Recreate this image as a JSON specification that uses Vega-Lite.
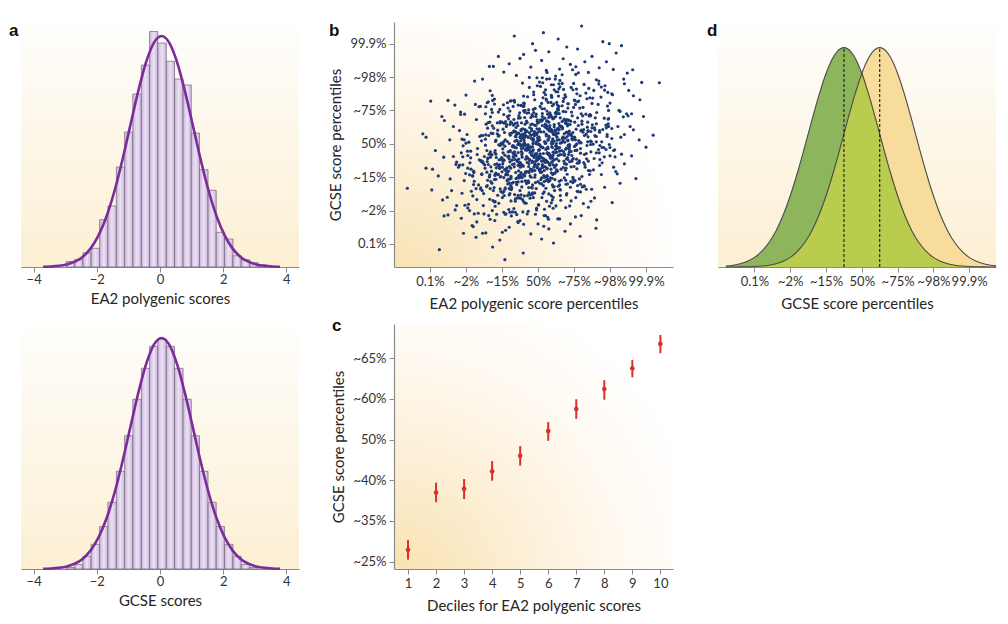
{
  "$schema": "https://vega.github.io/schema/vega-lite/v6.json",
  "background": "#ffffff",
  "padding": {"left": 9, "top": 22, "right": 5, "bottom": 5},
  "config": {
    "font": "Lato",
    "view": {"stroke": null},
    "axis": {"domainColor": "#8a8a8a", "tickColor": "#8a8a8a", "labelColor": "#333333", "titleColor": "#262626", "labelFontSize": 13, "titleFontSize": 15, "titleFontWeight": "normal", "grid": false, "tickSize": 5, "labelPadding": 2, "domainWidth": 1.2},
    "title": {"fontSize": 17, "fontWeight": "bold", "anchor": "start", "color": "#111111", "font": "Liberation Sans"}
  },
  "datasets": {
    "histA": [
      {"x0": -2.97, "x1": -2.70, "h": 5.5}, {"x0": -2.70, "x1": -2.44, "h": 7.3}, {"x0": -2.44, "x1": -2.18, "h": 14.2}, {"x0": -2.18, "x1": -1.91, "h": 18.7},
      {"x0": -1.91, "x1": -1.65, "h": 47.3}, {"x0": -1.65, "x1": -1.38, "h": 61}, {"x0": -1.38, "x1": -1.12, "h": 100}, {"x0": -1.12, "x1": -0.86, "h": 135},
      {"x0": -0.86, "x1": -0.59, "h": 173}, {"x0": -0.59, "x1": -0.33, "h": 202}, {"x0": -0.33, "x1": -0.07, "h": 235.5}, {"x0": -0.07, "x1": 0.20, "h": 224},
      {"x0": 0.20, "x1": 0.46, "h": 205.7}, {"x0": 0.46, "x1": 0.73, "h": 188}, {"x0": 0.73, "x1": 0.99, "h": 182}, {"x0": 0.99, "x1": 1.25, "h": 134},
      {"x0": 1.25, "x1": 1.52, "h": 97.3}, {"x0": 1.52, "x1": 1.78, "h": 76.7}, {"x0": 1.78, "x1": 2.04, "h": 34.7}, {"x0": 2.04, "x1": 2.31, "h": 28},
      {"x0": 2.31, "x1": 2.57, "h": 11.3}, {"x0": 2.57, "x1": 2.84, "h": 7.3}, {"x0": 2.84, "x1": 3.10, "h": 4.3}, {"x0": 3.10, "x1": 3.36, "h": 2.3}
    ],
    "histB": [
      {"x0": -2.97, "x1": -2.70, "h": 1.5}, {"x0": -2.70, "x1": -2.44, "h": 4.5}, {"x0": -2.44, "x1": -2.18, "h": 12.7}, {"x0": -2.18, "x1": -1.91, "h": 24.7},
      {"x0": -1.91, "x1": -1.65, "h": 42.5}, {"x0": -1.65, "x1": -1.38, "h": 66.7}, {"x0": -1.38, "x1": -1.12, "h": 97.7}, {"x0": -1.12, "x1": -0.86, "h": 133.3},
      {"x0": -0.86, "x1": -0.59, "h": 169.7}, {"x0": -0.59, "x1": -0.33, "h": 200.7}, {"x0": -0.33, "x1": -0.07, "h": 222.7}, {"x0": -0.07, "x1": 0.20, "h": 230},
      {"x0": 0.20, "x1": 0.46, "h": 222.7}, {"x0": 0.46, "x1": 0.73, "h": 200.7}, {"x0": 0.73, "x1": 0.99, "h": 169.7}, {"x0": 0.99, "x1": 1.25, "h": 133.3},
      {"x0": 1.25, "x1": 1.52, "h": 97.7}, {"x0": 1.52, "x1": 1.78, "h": 66.7}, {"x0": 1.78, "x1": 2.04, "h": 42.5}, {"x0": 2.04, "x1": 2.31, "h": 24.7},
      {"x0": 2.31, "x1": 2.57, "h": 12.7}, {"x0": 2.57, "x1": 2.84, "h": 4.5}, {"x0": 2.84, "x1": 3.10, "h": 1.5}
    ],
    "curve": [
      {"x": -3.70, "v": 0.2}, {"x": -3.45, "v": 0.5}, {"x": -3.20, "v": 1.2}, {"x": -2.95, "v": 2.6}, {"x": -2.70, "v": 5.3}, {"x": -2.45, "v": 10.1},
      {"x": -2.20, "v": 18.4}, {"x": -1.95, "v": 31.3}, {"x": -1.70, "v": 50.0}, {"x": -1.45, "v": 75.0}, {"x": -1.20, "v": 105.8}, {"x": -0.95, "v": 140.1},
      {"x": -0.70, "v": 174.4}, {"x": -0.45, "v": 203.9}, {"x": -0.20, "v": 223.9}, {"x": 0.05, "v": 231}, {"x": 0.30, "v": 223.9}, {"x": 0.55, "v": 203.9},
      {"x": 0.80, "v": 174.4}, {"x": 1.05, "v": 140.1}, {"x": 1.30, "v": 105.8}, {"x": 1.55, "v": 75.0}, {"x": 1.80, "v": 50.0}, {"x": 2.05, "v": 31.3},
      {"x": 2.30, "v": 18.4}, {"x": 2.55, "v": 10.1}, {"x": 2.80, "v": 5.3}, {"x": 3.05, "v": 2.6}, {"x": 3.30, "v": 1.2}, {"x": 3.55, "v": 0.5}, {"x": 3.80, "v": 0.2}
    ],
    "dens": [
      {"z": -3.8, "g": 0.0043, "yl": 0.0001, "ov": 0.0001}, {"z": -3.6, "g": 0.0082, "yl": 0.0002, "ov": 0.0002}, {"z": -3.4, "g": 0.0149, "yl": 0.0005, "ov": 0.0005},
      {"z": -3.2, "g": 0.0261, "yl": 0.0011, "ov": 0.0011}, {"z": -3.0, "g": 0.0439, "yl": 0.0022, "ov": 0.0022}, {"z": -2.8, "g": 0.0710, "yl": 0.0043, "ov": 0.0043},
      {"z": -2.6, "g": 0.1103, "yl": 0.0082, "ov": 0.0082}, {"z": -2.4, "g": 0.1645, "yl": 0.0149, "ov": 0.0149}, {"z": -2.2, "g": 0.2357, "yl": 0.0261, "ov": 0.0261},
      {"z": -2.0, "g": 0.3247, "yl": 0.0439, "ov": 0.0439}, {"z": -1.8, "g": 0.4296, "yl": 0.0710, "ov": 0.0710}, {"z": -1.6, "g": 0.5461, "yl": 0.1103, "ov": 0.1103},
      {"z": -1.4, "g": 0.6670, "yl": 0.1645, "ov": 0.1645}, {"z": -1.2, "g": 0.7827, "yl": 0.2357, "ov": 0.2357}, {"z": -1.0, "g": 0.8825, "yl": 0.3247, "ov": 0.3247},
      {"z": -0.8, "g": 0.956, "yl": 0.4296, "ov": 0.4296}, {"z": -0.6, "g": 0.995, "yl": 0.5461, "ov": 0.5461}, {"z": -0.5, "g": 1, "yl": 0.6065, "ov": 0.6065},
      {"z": -0.4, "g": 0.995, "yl": 0.6670, "ov": 0.6670}, {"z": -0.2, "g": 0.956, "yl": 0.7827, "ov": 0.7827}, {"z": 0.0, "g": 0.8825, "yl": 0.8825, "ov": 0.8825},
      {"z": 0.2, "g": 0.7827, "yl": 0.956, "ov": 0.7827}, {"z": 0.4, "g": 0.6670, "yl": 0.995, "ov": 0.6670}, {"z": 0.5, "g": 0.6065, "yl": 1, "ov": 0.6065},
      {"z": 0.6, "g": 0.5461, "yl": 0.995, "ov": 0.5461}, {"z": 0.8, "g": 0.4296, "yl": 0.956, "ov": 0.4296}, {"z": 1.0, "g": 0.3247, "yl": 0.8825, "ov": 0.3247},
      {"z": 1.2, "g": 0.2357, "yl": 0.7827, "ov": 0.2357}, {"z": 1.4, "g": 0.1645, "yl": 0.6670, "ov": 0.1645}, {"z": 1.6, "g": 0.1103, "yl": 0.5461, "ov": 0.1103},
      {"z": 1.8, "g": 0.0710, "yl": 0.4296, "ov": 0.0710}, {"z": 2.0, "g": 0.0439, "yl": 0.3247, "ov": 0.0439}, {"z": 2.2, "g": 0.0261, "yl": 0.2357, "ov": 0.0261},
      {"z": 2.4, "g": 0.0149, "yl": 0.1645, "ov": 0.0149}, {"z": 2.6, "g": 0.0082, "yl": 0.1103, "ov": 0.0082}, {"z": 2.8, "g": 0.0043, "yl": 0.0710, "ov": 0.0043},
      {"z": 3.0, "g": 0.0022, "yl": 0.0439, "ov": 0.0022}, {"z": 3.2, "g": 0.0011, "yl": 0.0261, "ov": 0.0011}, {"z": 3.4, "g": 0.0005, "yl": 0.0149, "ov": 0.0005},
      {"z": 3.6, "g": 0.0002, "yl": 0.0082, "ov": 0.0002}, {"z": 3.75, "g": 0.0001, "yl": 0.0051, "ov": 0.0001}
    ],
    "dec": [
      {"decile": 1, "m": 0.29, "lo": 0.05, "hi": 0.53}, {"decile": 2, "m": 1.70, "lo": 1.46, "hi": 1.94}, {"decile": 3, "m": 1.79, "lo": 1.54, "hi": 2.03},
      {"decile": 4, "m": 2.22, "lo": 1.99, "hi": 2.47}, {"decile": 5, "m": 2.60, "lo": 2.36, "hi": 2.84}, {"decile": 6, "m": 3.21, "lo": 2.97, "hi": 3.43},
      {"decile": 7, "m": 3.75, "lo": 3.51, "hi": 3.99}, {"decile": 8, "m": 4.24, "lo": 3.98, "hi": 4.46}, {"decile": 9, "m": 4.75, "lo": 4.53, "hi": 4.96},
      {"decile": 10, "m": 5.35, "lo": 5.12, "hi": 5.57}
    ]
  },
  "spacing": 6,
  "vconcat": [
    {
      "spacing": 95,
      "bounds": "flush",
      "hconcat": [
        {
          "width": 278, "height": 245,
          "title": {"text": "a", "dx": -12, "dy": 22},
          "view": {"fill": {"gradient": "linear", "x1": 0, "y1": 0, "x2": 0, "y2": 1, "stops": [{"offset": 0, "color": "#fffefc"}, {"offset": 1, "color": "#fcefd3"}]}},
          "layer": [
            {
              "data": {"name": "histA"},
              "mark": {"type": "bar", "stroke": "#6f6578", "strokeWidth": 0.7, "fill": {"gradient": "linear", "x1": 0, "y1": 0, "x2": 1, "y2": 0, "stops": [{"offset": 0, "color": "#cbb6dc"}, {"offset": 0.5, "color": "#ece2f3"}, {"offset": 1, "color": "#cbb6dc"}]}},
              "encoding": {
                "x": {"field": "x0", "type": "quantitative", "scale": {"domain": [-4.4, 4.4], "nice": false, "zero": false}, "axis": {"values": [-4, -2, 0, 2, 4], "title": "EA2 polygenic scores", "labelPadding": 1, "titlePadding": 5}},
                "x2": {"field": "x1"},
                "y": {"field": "h", "type": "quantitative", "scale": {"domain": [0, 245], "nice": false}, "axis": null},
                "y2": {"datum": 0}
              }
            },
            {
              "data": {"name": "curve"},
              "mark": {"type": "line", "color": "#7a2c9a", "strokeWidth": 2.6, "interpolate": "monotone"},
              "encoding": {"x": {"field": "x", "type": "quantitative"}, "y": {"field": "v", "type": "quantitative"}}
            }
          ]
        },
        {
          "spacing": 45,
          "bounds": "flush",
          "hconcat": [
            {
              "width": 279, "height": 245,
              "title": {"text": "b", "dx": 0, "dy": 22},
              "view": {"fill": {"gradient": "radial", "x1": 0, "y1": 1, "r1": 0, "x2": 0, "y2": 1, "r2": 1.05, "stops": [{"offset": 0, "color": "#f8e1ae"}, {"offset": 0.4, "color": "#fcefd6"}, {"offset": 0.75, "color": "#fffaf3"}, {"offset": 1, "color": "#ffffff"}]}},
              "data": {"values": "x,y\n-183,-245\n-151,-149\n-110,-91\n-97,-47\n-70,-5\n-63,37\n-41,112\n-29,-155\n-22,-96\n-4,-45\n9,-9\n16,36\n35,87\n43,177\n59,-112\n79,-45\n88,-2\n121,41\n133,89\n207,147\n-172,-134\n-136,-31\n-121,119\n-88,-90\n-80,1\n-55,-236\n-50,-62\n-36,27\n-15,-147\n-11,-37\n2,64\n22,-110\n28,-14\n49,82\n54,-82\n70,18\n101,131\n107,-46\n158,42\n176,170\n-226,-55\n-159,-136\n-106,63\n-101,-41\n-73,-132\n-58,63\n-44,-40\n-26,-131\n-18,45\n-8,-30\n11,-161\n24,54\n31,-30\n40,-168\n65,51\n74,-31\n96,222\n112,55\n147,-24\n238,194\n-195,-192\n-129,103\n-125,31\n-85,7\n-67,-31\n-66,-69\n-39,-93\n-33,-178\n-13,103\n-1,62\n5,12\n13,-11\n38,-55\n51,-81\n62,-155\n83,107\n85,71\n127,43\n162,6\n189,-17\n-244,-105\n-145,27\n-117,-106\n-91,12\n-78,-135\n-53,-2\n-47,-153\n-31,-14\n-24,169\n-6,-36\n12,91\n19,-53\n26,68\n46,-71\n57,44\n81,-91\n92,29\n105,-161\n139,21\n169,179\n-168,-14\n-140,-109\n-112,41\n-99,-70\n-83,107\n-61,-36\n-42,-204\n-37,-5\n-16,-132\n-10,27\n7,-86\n20,59\n36,-43\n44,119\n60,-11\n67,181\n99,18\n118,-121\n151,57\n214,-39\n-179,-82\n-132,-24\n-108,25\n-95,88\n-75,-171\n-57,-101\n-49,-58\n-27,-16\n-20,26\n-2,72\n4,185\n17,-113\n33,-64\n48,-17\n53,20\n77,62\n103,129\n109,-142\n130,-62\n198,-2\n-205,12\n-155,-140\n-104,-47\n-87,58\n-69,-115\n-64,-11\n-40,99\n-34,-87\n-14,15\n-12,147\n1,-61\n23,29\n29,-226\n41,-35\n63,53\n82,-120\n87,-8\n124,84\n143,-92\n180,43\n-252,-160\n-162,22\n-114,-60\n-103,-143\n-72,33\n-52,-56\n-43,-167\n-30,37\n-23,-47\n-7,-211\n8,36\n14,-51\n37,177\n50,25\n58,-51\n75,147\n90,26\n115,-51\n136,135\n222,52\n-187,-42\n-148,-63\n-119,-95\n-92,-136\n-81,-197\n-54,77\n-48,27\n-28,-10\n-17,-33\n-9,-80\n10,-120\n21,162\n27,89\n47,41\n66,4\n71,-24\n94,-52\n110,-125\n155,160\n193,113\n-171,73\n-134,-93\n-123,47\n-90,-93\n-77,26\n-59,-122\n-51,-1\n-38,-156\n-21,-9\n-3,198\n6,-30\n18,105\n34,-42\n42,77\n64,-76\n68,45\n97,-100\n106,44\n149,-136\n171,35\n-211,-148\n-157,9\n-105,-99\n-94,62\n-71,-62\n-65,125\n-46,-23\n-25,-147\n-19,16\n0,-113\n3,38\n25,-73\n30,79\n52,-25\n55,156\n84,-4\n104,-219\n119,39\n131,-70\n246,90\n-200,2\n-138,64\n-127,-200\n-86,-110\n-79,-68\n-62,-33\n-39,11\n-32,68\n-12,155\n-5,-134\n13,-71\n15,-29\n39,8\n45,58\n52,124\n80,-149\n100,-68\n104,-20\n160,22\n184,77\n-166,-208\n-147,-73\n-113,30\n-98,-146\n-68,-40\n-56,55\n-45,-113\n-35,-18\n-20,79\n-8,-93\n0,8\n23,131\n32,-60\n43,29\n61,190\n73,-35\n89,58\n126,-179\n153,-1\n228,97\n-190,-93\n-152,-185\n-118,7\n-89,-76\n-74,-216\n-60,10\n-49,-70\n-29,141\n-14,10\n-11,-70\n10,121\n18,7\n36,-76\n40,114\n59,12\n76,-79\n93,95\n113,10\n145,-81\n167,118\n-174,118\n-130,32\n-109,-3\n-84,-39\n-76,-73\n-53,-102\n-40,-173\n-26,102\n-23,49\n-1,18\n4,-17\n20,-56\n26,-97\n50,-186\n67,114\n78,69\n86,31\n116,3\n134,-29\n210,-70\n-218,-64\n-141,123\n-116,-72\n-100,65\n-82,-82\n-58,32\n-44,-101\n-33,23\n-15,-123\n-4,6\n2,-183\n22,-17\n38,143\n47,-27\n56,90\n72,-52\n102,65\n108,-75\n138,65\n176,-92\n-177,-112\n-144,59\n-107,-63\n-96,117\n-70,-27\n-63,-172\n-43,-2\n-36,-111\n-18,39\n-2,-68\n12,82\n16,-45\n28,124\n49,-6\n63,-169\n81,22\n98,-106\n122,59\n140,-52\n200,122\n-165,-123\n-131,-69\n-120,-26\n-93,34\n-69,112\n-52,-162\n-50,-95\n-30,-56\n-13,-18\n-10,24\n9,68\n24,194\n29,-113\n51,-63\n66,-20\n69,20\n91,68\n110,126\n157,-162\n172,-47\n-235,-38\n-160,112\n-111,-92\n-102,2\n-71,-204\n-66,-60\n-41,29\n-37,-177\n-16,-35\n-6,55\n5,-118\n14,-12\n33,93\n44,-89\n53,11\n84,120\n88,-54\n125,35\n141,166\n183,-11\n-197,28\n-154,-53\n-122,-131\n-88,52\n-80,-45\n-55,-154\n-47,39\n-28,-43\n-22,-163\n-3,45\n11,-41\n21,-215\n35,44\n46,-47\n58,180\n78,34\n95,-48\n117,144\n137,50\n232,-31\n-186,-76\n-135,-98\n-124,-140\n-91,-211\n-73,63\n-60,27\n-42,-12\n-34,-46\n-17,-77\n-7,-116\n7,172\n19,77\n31,39\n41,1\n65,-32\n74,-60\n101,-112\n107,164\n163,94\n195,74\n-203,-184\n-149,-38\n-115,-211\n-97,-52\n-78,98\n-54,-65\n-46,63\n-31,-83\n-24,33\n-9,-100\n3,20\n17,-144\n37,1\n48,194\n57,-13\n70,127\n85,-32\n120,90\n135,-45\n250,84\n-169,-32\n-143,-128\n-110,23\n-86,-87\n-82,75\n-57,-53\n-40,143\n-27,-15\n-21,-153\n-12,12\n8,-107\n24,54\n27,-55\n51,96\n60,-22\n71,163\n96,12\n111,-143\n150,48\n178,-57\n-213,-27\n-137,25\n-126,130\n-99,-161\n-75,-97\n-64,-47\n-48,-6\n-35,35\n-14,83\n-4,-193\n10,-102\n22,-49\n38,-8\n42,34\n62,78\n77,141\n90,-130\n114,-57\n146,-2\n190,48\n-181,-96\n-146,14\n-112,-154\n-94,-49\n-68,56\n-61,-115\n-44,-28\n-26,93\n-19,-100\n-5,0\n6,112\n20,-69\n30,23\n45,162\n56,-35\n82,54\n92,-171\n118,-14\n142,84\n216,-83\n-170,-234\n-142,-20\n-103,-98\n-85,123\n-67,-7\n-62,-86\n-39,113\n-29,-4\n-25,-86\n-6,82\n1,-2\n25,-95\n36,84\n40,-11\n64,-109\n80,73\n103,-6\n123,-129\n159,78\n205,16\n-192,5\n-128,-33\n-120,-62\n-90,-80\n-72,-118\n-56,-233\n-51,93\n-32,39\n-13,3\n-11,-41\n12,-65\n15,-125\n32,195\n52,90\n54,46\n75,17\n87,-11\n109,-58\n129,-127\n186,174\n-208,-6\n-133,-134\n-105,-2\n-95,-143\n-77,-20\n-59,-212\n-45,-33\n-38,121\n-15,-54\n-2,68\n4,-76\n23,48\n34,-102\n49,31\n61,-137\n83,9\n99,181\n115,7\n152,137\n172,-5\n-215,88\n-158,-50\n-119,-173\n-92,-7\n-74,-130\n-63,22\n-41,-92\n-36,59\n-24,-50\n-8,106\n2,-20\n18,-196\n28,11\n47,-107\n66,52\n79,-61\n95,84\n108,-19\n144,138\n240,28\n-363,-133\n-320,30\n-311,20\n-298,128\n-274,-317\n-92,-347\n-66,323\n15,333\n121,353\n337,183\n320,26\n272,-104\n300,-10\n293,82\n-41,-327\n-126,-309\n-172,-280\n43,-297\n117,-277\n161,-253\n180,306\n198,300\n217,272\n232,294\n56,314\n-7,280\n-50,256\n-135,232\n-124,232\n-154,194\n-176,188\n-200,146\n-250,130\n-231,116\n-267,82\n-235,52\n-311,-73\n-293,-76\n-295,-138\n-277,-96\n-265,-168\n-261,-216\n-250,-213\n-213,-223\n-207,-268\n-180,-248\n-154,-268\n-106,-288\n163,-228\n206,-176\n228,-118\n260,-36\n265,42\n281,12\n265,144\n263,222\n283,132\n288,184\n248,212\n256,52\n-110,262\n-80,240\n-40,268\n-20,230\n10,250\n30,276\n70,255\n90,238\n110,284\n130,246\n150,262\n-95,215\n-60,205\n25,214\n60,224\n105,208\n140,214\n170,228\n190,246\n-15,300\n80,290\n-285,-20\n-262,-40\n-245,12\n-228,-62\n-218,40\n-205,-110\n-240,-140\n-226,-185\n-190,-200\n-260,70\n-215,95\n-195,-35\n195,60\n210,-20\n225,100\n240,-60\n252,160\n205,150\n220,-90\n185,-130\n240,180\n230,20\n260,90\n-120,-230\n-80,-250\n-50,-230\n-20,-270\n0,-240\n30,-255\n60,-225\n90,-240\n120,-215\n-150,-210\n-95,-205\n75,-262\n140,-190\n-30,-210\n10,-285\n-230,-198\n-134,-166\n-76,-125\n-32,-112\n10,-85\n52,-78\n127,-56\n-140,-44\n-81,-37\n-30,-19\n6,-6\n51,1\n102,20\n192,28\n-97,44\n-30,64\n13,73\n56,106\n104,118\n162,192\n-119,-187\n-16,-151\n134,-136\n-75,-103\n16,-95\n-221,-70\n-47,-65\n42,-51\n-132,-30\n-22,-26\n79,-13\n-95,7\n1,13\n97,34\n-67,39\n33,55\n146,86\n-31,92\n57,143\n185,161\n-40,-241\n-121,-174\n78,-121\n-26,-116\n-117,-88\n78,-73\n-25,-59\n-116,-41\n60,-33\n-15,-23\n-146,-4\n69,9\n-15,16\n-153,25\n66,50\n-16,59\n237,81\n70,97\n-9,132\n209,223\n-177,-210\n118,-144\n46,-140\n22,-100\n-16,-82\n-54,-81\n-78,-54\n-163,-48\n118,-28\n77,-16\n27,-10\n4,-2\n-40,23\n-66,36\n-140,47\n122,68\n86,70\n58,112\n21,147\n-2,174\n-90,-259\n42,-160\n-91,-132\n27,-106\n-120,-93\n13,-68\n-138,-62\n1,-46\n184,-39\n-21,-21\n106,-3\n-38,4\n83,11\n-56,31\n59,42\n-76,66\n44,77\n-146,90\n36,124\n194,154\n1,-183\n-94,-155\n56,-127\n-55,-114\n122,-98\n-21,-76\n-189,-57\n10,-52\n-117,-31\n42,-25\n-71,-8\n74,5\n-28,21\n134,29\n4,45\n196,52\n33,84\n-106,103\n72,136\n-24,199\n-67,-194\n-9,-147\n40,-123\n103,-110\n-156,-90\n-86,-72\n-43,-64\n-1,-42\n41,-35\n87,-17\n200,-11\n-98,2\n-49,18\n-2,33\n35,38\n77,62\n144,88\n-127,94\n-47,115\n13,183\n27,-220\n-125,-170\n-32,-119\n73,-102\n-100,-84\n4,-79\n114,-55\n-72,-49\n30,-29\n162,-27\n-46,-14\n44,8\n-211,14\n-20,26\n68,48\n-105,67\n7,72\n99,109\n-77,128\n58,165\n-145,-267\n37,-177\n-45,-129\n-128,-118\n48,-87\n-41,-67\n-152,-58\n52,-45\n-32,-38\n-196,-22\n51,-7\n-36,-1\n192,22\n40,35\n-36,43\n162,60\n41,75\n-36,100\n150,121\n67,207\n-27,-202\n-48,-163\n-80,-134\n-121,-107\n-182,-96\n92,-69\n42,-63\n5,-43\n-18,-32\n-65,-24\n-105,-5\n177,6\n104,12\n56,32\n19,51\n-9,56\n-37,79\n-110,95\n175,140\n128,178\n88,-186\n-78,-149\n62,-138\n-78,-105\n41,-92\n-107,-74\n14,-66\n-141,-53\n6,-36\n213,-18\n-15,-9\n120,3\n-27,19\n92,27\n-61,49\n60,53\n-85,82\n59,91\n-121,134\n50,156\n-133,-226\n24,-172\n-84,-120\n77,-109\n-47,-86\n140,-80\n-8,-61\n-132,-40\n31,-34\n-98,-15\n53,-12\n-58,10\n94,15\n-10,37\n171,40\n11,69\n-204,89\n54,104\n-55,116\n105,231\n17,-215\n79,-153\n-185,-142\n-95,-101\n-53,-94\n-18,-77\n26,-54\n83,-47\n170,-27\n-119,-20\n-56,-2\n-14,0\n23,24\n73,30\n139,37\n-134,65\n-53,85\n-5,89\n37,145\n92,169\n-193,-181\n-58,-162\n45,-128\n-131,-113\n-25,-83\n70,-71\n-98,-60\n-3,-50\n94,-35\n-78,-23\n23,-15\n146,8\n-45,17\n44,28\n205,46\n-20,58\n73,74\n-164,111\n14,138\n112,213\n-78,-205\n-170,-167\n22,-133\n-61,-104\n-201,-89\n25,-75\n-55,-64\n156,-44\n25,-29\n-55,-26\n136,-5\n22,3\n-61,21\n129,25\n27,44\n-64,61\n110,78\n25,98\n-66,130\n133,152\n-133,159\n-47,115\n-12,94\n24,69\n58,61\n87,38\n158,25\n-117,11\n-64,8\n-33,-14\n2,-19\n41,-35\n82,-41\n171,-65\n-129,-82\n-84,-93\n-46,-101\n-18,-131\n14,-149\n55,-225\n49,203\n-138,126\n57,101\n-80,85\n67,67\n-47,43\n86,29\n-38,18\n108,0\n-21,-11\n168,-17\n2,-37\n-158,-53\n12,-62\n-105,-71\n37,-87\n-80,-117\n60,-123\n-80,-153\n77,-191\n97,162\n-74,129\n48,92\n-132,81\n12,55\n157,48\n-13,28\n96,21\n-54,3\n53,-13\n-97,-27\n30,-31\n-139,-43\n-9,-64\n154,-78\n-37,-96\n91,-113\n-74,-137\n37,-155\n-137,-215\n108,150\n54,116\n11,105\n-49,78\n-127,54\n147,37\n80,35\n41,15\n3,-2\n-39,-5\n-83,-24\n-209,-39\n98,-44\n48,-66\n5,-81\n-35,-84\n-83,-106\n-141,-125\n147,-172\n32,-187\n23,220\n-127,145\n77,96\n-17,87\n189,56\n45,51\n-44,26\n162,22\n20,1\n-70,-9\n103,-20\n-3,-29\n-108,-48\n74,-59\n-26,-68\n-135,-99\n39,-103\n-50,-140\n-181,-156\n-4,-198\n-43,182\n38,139\n116,107\n-67,73\n30,65\n139,40\n-54,32\n28,13\n148,7\n-60,-12\n26,-26\n200,-36\n-59,-50\n32,-61\n-195,-73\n-49,-93\n33,-110\n-159,-132\n-65,-152\n16,-247\n61,171\n83,120\n125,109\n196,76\n-78,58\n-42,45\n-3,27\n31,19\n62,2\n101,-8\n-187,-22\n-92,-34\n-54,-46\n-16,-56\n17,-80\n45,-89\n97,-116\n-179,-122\n-109,-178\n-89,-210\n169,188\n23,134\n196,100\n37,82\n-113,63\n50,39\n-78,31\n68,16\n-48,9\n85,-6\n-35,-18\n129,-32\n-16,-52\n-209,-63\n-2,-72\n-142,-85\n17,-100\n-105,-135\n30,-150\n-99,-265\n17,154\n113,128\n-38,95\n72,71\n-90,67\n38,42\n-158,25\n0,12\n138,6\n-27,-3\n92,-23\n-69,-39\n40,-42\n-111,-66\n7,-75\n-178,-86\n-27,-111\n128,-126\n-63,-165\n42,-193\n12,198\n-40,122\n-145,111\n146,84\n82,60\n32,49\n-9,33\n-50,20\n-98,-1\n178,-11\n87,-25\n34,-37\n-7,-53\n-49,-57\n-93,-77\n-156,-92\n115,-105\n42,-129\n-13,-161\n-63,-205", "format": {"type": "csv", "parse": {"x": "number", "y": "number"}}},
              "mark": {"type": "circle", "size": 10, "color": "#1c3a78", "opacity": 1, "clip": true},
              "encoding": {
                "x": {"field": "x", "type": "quantitative", "scale": {"domain": [-400, 375], "nice": false, "zero": false}, "axis": {"values": [-300, -200, -100, 0, 100, 200, 300], "labelExpr": "['0.1%','~2%','~15%','50%','~75%','~98%','99.9%'][round(datum.value/100)+3]", "title": "EA2 polygenic score percentiles", "labelPadding": 3, "titlePadding": 8}},
                "y": {"field": "y", "type": "quantitative", "scale": {"domain": [-369, 365], "nice": false, "zero": false}, "axis": {"values": [-300, -200, -100, 0, 100, 200, 300], "labelExpr": "['0.1%','~2%','~15%','50%','~75%','~98%','99.9%'][round(datum.value/100)+3]", "title": "GCSE score percentiles", "labelPadding": 3, "titlePadding": 6}}
              }
            },
            {
              "width": 278, "height": 245,
              "title": {"text": "d", "dx": -11, "dy": 22},
              "view": {"fill": {"gradient": "linear", "x1": 0, "y1": 0, "x2": 0, "y2": 1, "stops": [{"offset": 0, "color": "#fffefc"}, {"offset": 1, "color": "#fcefd3"}]}},
              "layer": [
                {
                  "data": {"name": "dens"},
                  "mark": {"type": "area", "color": "#f8dc9b", "opacity": 1, "interpolate": "monotone"},
                  "encoding": {
                    "x": {"field": "z", "type": "quantitative", "scale": {"domain": [-4.02, 3.75], "nice": false, "zero": false}, "axis": {"values": [-3, -2, -1, 0, 1, 2, 3], "labelExpr": "['0.1%','~2%','~15%','50%','~75%','~98%','99.9%'][round(datum.value)+3]", "title": "GCSE score percentiles", "labelPadding": 3, "titlePadding": 8}},
                    "y": {"field": "yl", "type": "quantitative", "scale": {"domain": [0, 1.117], "nice": false}, "axis": null}
                  }
                },
                {
                  "data": {"name": "dens"},
                  "mark": {"type": "area", "color": "#8cb55c", "opacity": 1, "interpolate": "monotone"},
                  "encoding": {"x": {"field": "z", "type": "quantitative"}, "y": {"field": "g", "type": "quantitative"}}
                },
                {
                  "data": {"name": "dens"},
                  "mark": {"type": "area", "color": "#b9cc4d", "opacity": 1, "interpolate": "monotone"},
                  "encoding": {"x": {"field": "z", "type": "quantitative"}, "y": {"field": "ov", "type": "quantitative"}}
                },
                {
                  "data": {"name": "dens"},
                  "mark": {"type": "line", "color": "#4a4a4a", "strokeWidth": 1.1, "interpolate": "monotone"},
                  "encoding": {"x": {"field": "z", "type": "quantitative"}, "y": {"field": "yl", "type": "quantitative"}}
                },
                {
                  "data": {"name": "dens"},
                  "mark": {"type": "line", "color": "#4a4a4a", "strokeWidth": 1.1, "interpolate": "monotone"},
                  "encoding": {"x": {"field": "z", "type": "quantitative"}, "y": {"field": "g", "type": "quantitative"}}
                },
                {
                  "data": {"values": [{"m": -0.5}, {"m": 0.5}]},
                  "mark": {"type": "rule", "color": "#1a1a1a", "strokeWidth": 1.1, "strokeDash": [3, 2]},
                  "encoding": {"x": {"field": "m", "type": "quantitative"}, "y": {"datum": 0, "type": "quantitative"}, "y2": {"datum": 1}}
                }
              ]
            }
          ]
        }
      ]
    },
    {
      "spacing": 95,
      "bounds": "flush",
      "hconcat": [
        {
          "width": 278, "height": 245,
          "title": {"text": "\u00a0", "dx": -12, "dy": 15},
          "view": {"fill": {"gradient": "linear", "x1": 0, "y1": 0, "x2": 0, "y2": 1, "stops": [{"offset": 0, "color": "#fffefc"}, {"offset": 1, "color": "#fcefd3"}]}},
          "layer": [
            {
              "data": {"name": "histB"},
              "mark": {"type": "bar", "stroke": "#6f6578", "strokeWidth": 0.7, "fill": {"gradient": "linear", "x1": 0, "y1": 0, "x2": 1, "y2": 0, "stops": [{"offset": 0, "color": "#cbb6dc"}, {"offset": 0.5, "color": "#ece2f3"}, {"offset": 1, "color": "#cbb6dc"}]}},
              "encoding": {
                "x": {"field": "x0", "type": "quantitative", "scale": {"domain": [-4.4, 4.4], "nice": false, "zero": false}, "axis": {"values": [-4, -2, 0, 2, 4], "title": "GCSE scores", "labelPadding": 1, "titlePadding": 5}},
                "x2": {"field": "x1"},
                "y": {"field": "h", "type": "quantitative", "scale": {"domain": [0, 245], "nice": false}, "axis": null},
                "y2": {"datum": 0}
              }
            },
            {
              "data": {"name": "curve"},
              "mark": {"type": "line", "color": "#7a2c9a", "strokeWidth": 2.6, "interpolate": "monotone"},
              "encoding": {"x": {"field": "x", "type": "quantitative"}, "y": {"field": "v", "type": "quantitative"}}
            }
          ]
        },
        {
          "width": 279, "height": 245,
          "title": {"text": "c", "dx": 0, "dy": 15},
          "view": {"fill": {"gradient": "radial", "x1": 0, "y1": 1, "r1": 0, "x2": 0, "y2": 1, "r2": 1.15, "stops": [{"offset": 0, "color": "#f8e1ae"}, {"offset": 0.4, "color": "#fcefd6"}, {"offset": 0.75, "color": "#fffaf3"}, {"offset": 1, "color": "#ffffff"}]}},
          "data": {"name": "dec"},
          "encoding": {
            "x": {"field": "decile", "type": "quantitative", "scale": {"domain": [0.5, 10.45], "nice": false, "zero": false}, "axis": {"values": [1, 2, 3, 4, 5, 6, 7, 8, 9, 10], "title": "Deciles for EA2 polygenic scores", "labelPadding": 3, "titlePadding": 8}}
          },
          "layer": [
            {
              "mark": {"type": "rule", "color": "#d7312c", "strokeWidth": 2},
              "encoding": {
                "y": {"field": "lo", "type": "quantitative", "scale": {"domain": [-0.18, 5.84], "nice": false, "zero": false}, "axis": {"values": [0, 1, 2, 3, 4, 5], "labelExpr": "['~25%','~35%','~40%','50%','~60%','~65%'][round(datum.value)]", "title": "GCSE score percentiles", "labelPadding": 3, "titlePadding": 6}},
                "y2": {"field": "hi"}
              }
            },
            {
              "mark": {"type": "circle", "color": "#d7312c", "size": 22, "opacity": 1},
              "encoding": {"y": {"field": "m", "type": "quantitative"}}
            }
          ]
        }
      ]
    }
  ]
}
